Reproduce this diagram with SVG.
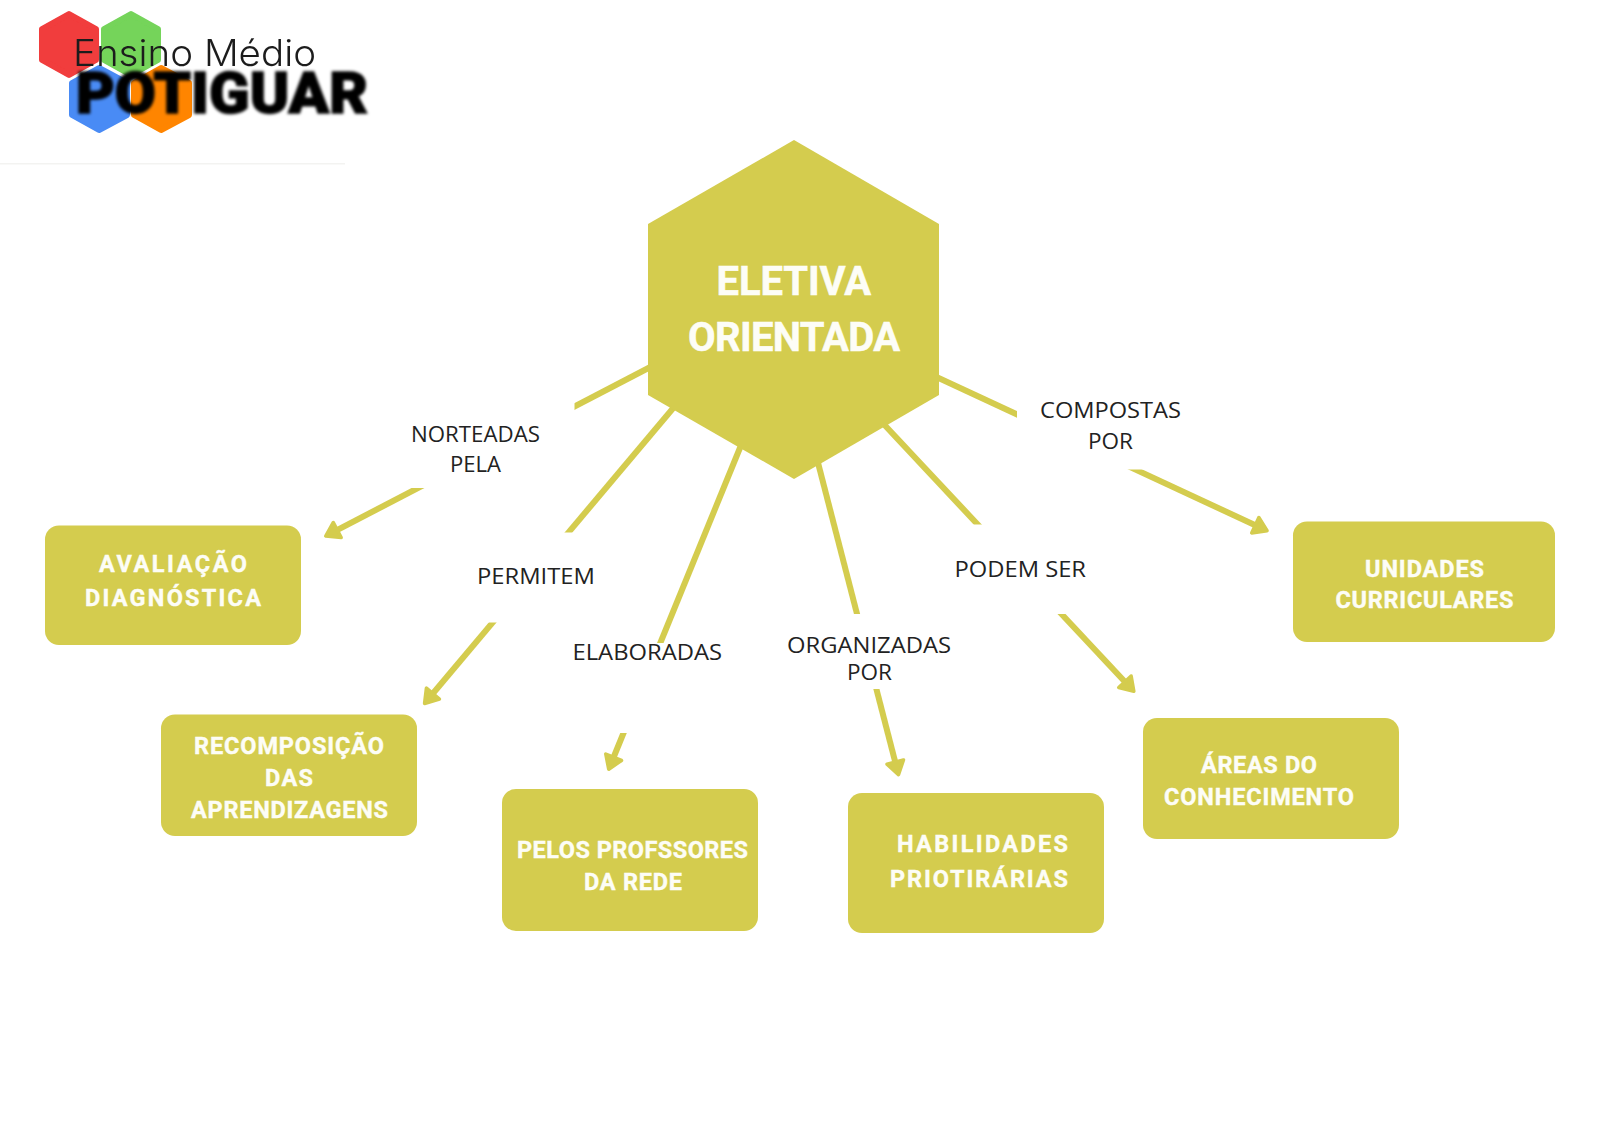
<svg xmlns="http://www.w3.org/2000/svg" width="1600" height="1131" viewBox="0 0 1600 1131">
<style>
.box{fill:#d4cc4e}
.bt{font-family:Roboto,"Liberation Sans",sans-serif;font-weight:700;font-size:23.5px;fill:#fdfdf6;stroke:#fdfdf6;stroke-width:.4px}
.tt{font-family:Roboto,"Liberation Sans",sans-serif;font-weight:700;font-size:40px;fill:#fdfdf6;stroke:#fdfdf6;stroke-width:.5px}
.lb{font-family:"Open Sans","Liberation Sans",sans-serif;font-size:22px;fill:#222}
.cn{stroke:#d4cc4e;stroke-width:6;fill:none;marker-end:url(#arr)}
.gap{fill:#fff}
</style>
<defs>
<marker id="arr" viewBox="-12 -14 26 28" markerWidth="26" markerHeight="28" refX="0" refY="0" orient="auto" markerUnits="userSpaceOnUse">
<path d="M10,0 L-3,-8.500 L-3,8.500 Z" fill="#d4cc4e" stroke="#d4cc4e" stroke-width="3.500" stroke-linejoin="round"/>
</marker>
<filter id="soft" x="-5%" y="-5%" width="110%" height="110%"><feGaussianBlur stdDeviation="0.7"/></filter>
<filter id="softer" x="-5%" y="-15%" width="110%" height="130%"><feGaussianBlur stdDeviation="1.400"/></filter>
</defs>
<rect width="1600" height="1131" fill="#fff"/>
<g id="logo">
<rect x="0" y="163" width="345" height="1.5" fill="#f3f3f1"/>
<g filter="url(#soft)" stroke-linejoin="round" stroke-width="6">
<path d="M69,14 L96,29 L96,60 L69,75 L42,60 L42,29 Z" fill="#f13c3c" stroke="#f13c3c"/>
<path d="M131,14 L158,29 L158,60 L131,75 L104,60 L104,29 Z" fill="#74d45a" stroke="#74d45a"/>
<path d="M99,68 L127,83 L127,115 L99,130 L72,115 L72,83 Z" fill="#4a8bf5" stroke="#4a8bf5"/>
<path d="M161,68 L189,83 L189,115 L161,130 L134,115 L134,83 Z" fill="#ff8500" stroke="#ff8500"/>
</g>
<text x="73" y="66" font-family="Inter,'Liberation Sans',sans-serif" font-weight="300" font-size="37" fill="#1c1c1c" textLength="243" lengthAdjust="spacingAndGlyphs" filter="url(#soft)">Ensino Médio</text>
<text x="76" y="113" font-family="Roboto,'Liberation Sans',sans-serif" font-weight="900" font-size="57" fill="#050505" stroke="#050505" stroke-width="1.500" textLength="292" lengthAdjust="spacingAndGlyphs" filter="url(#softer)">POTIGUAR</text>
</g>
<g id="connectors">
<line class="cn" x1="660" y1="362" x2="334.6" y2="531.4"/>
<line class="cn" x1="680" y1="400" x2="431" y2="695.8"/>
<line class="cn" x1="744" y1="438" x2="612.5" y2="760"/>
<line class="cn" x1="816" y1="455" x2="896" y2="765"/>
<line class="cn" x1="878" y1="418" x2="1127" y2="684"/>
<line class="cn" x1="930" y1="374" x2="1258" y2="526.5"/>
<rect class="gap" x="405" y="395" width="169.500" height="93"/>
<rect class="gap" x="470" y="532.500" width="145" height="90"/>
<rect class="gap" x="568" y="643" width="160" height="90"/>
<rect class="gap" x="785" y="614" width="170" height="75"/>
<rect class="gap" x="950" y="524.500" width="140" height="89.500"/>
<rect class="gap" x="1017" y="385" width="183" height="84.500"/>
<text class="lb" x="411" y="441.500" textLength="129" lengthAdjust="spacingAndGlyphs">NORTEADAS</text>
<text class="lb" x="450" y="472" textLength="51" lengthAdjust="spacingAndGlyphs">PELA</text>
<text class="lb" x="477" y="584" textLength="118" lengthAdjust="spacingAndGlyphs">PERMITEM</text>
<text class="lb" x="572.500" y="660" textLength="149.500" lengthAdjust="spacingAndGlyphs">ELABORADAS</text>
<text class="lb" x="787" y="652.500" textLength="164" lengthAdjust="spacingAndGlyphs">ORGANIZADAS</text>
<text class="lb" x="847" y="680" textLength="45" lengthAdjust="spacingAndGlyphs">POR</text>
<text class="lb" x="954.500" y="577" textLength="131.500" lengthAdjust="spacingAndGlyphs">PODEM SER</text>
<text class="lb" x="1040" y="417.500" textLength="141" lengthAdjust="spacingAndGlyphs">COMPOSTAS</text>
<text class="lb" x="1088" y="448.500" textLength="45" lengthAdjust="spacingAndGlyphs">POR</text>
</g>
<g id="eletiva">
<polygon class="box" points="794,140 939,224 939,395 794,479 648,395 648,224"/>
<text class="tt" x="716.500" y="294.500" textLength="154.500" lengthAdjust="spacing">ELETIVA</text>
<text class="tt" x="688" y="350.500" textLength="212" lengthAdjust="spacing">ORIENTADA</text>
</g>
<g id="avaliacao">
<rect class="box" x="45" y="525.500" width="256" height="119.500" rx="14"/>
<text class="bt" x="99" y="571.500" textLength="148" lengthAdjust="spacing">AVALIAÇÃO</text>
<text class="bt" x="85" y="606" textLength="176" lengthAdjust="spacing">DIAGNÓSTICA</text>
</g>
<g id="recomposicao">
<rect class="box" x="161" y="714.500" width="256" height="121.500" rx="14"/>
<text class="bt" x="194" y="753.500" textLength="190" lengthAdjust="spacing">RECOMPOSIÇÃO</text>
<text class="bt" x="265" y="786" textLength="48" lengthAdjust="spacing">DAS</text>
<text class="bt" x="191" y="818" textLength="197" lengthAdjust="spacing">APRENDIZAGENS</text>
</g>
<g id="professores">
<rect class="box" x="502" y="789" width="256" height="142" rx="14"/>
<text class="bt" x="517" y="857.500" textLength="231" lengthAdjust="spacing">PELOS PROFSSORES</text>
<text class="bt" x="584" y="889.500" textLength="98" lengthAdjust="spacing">DA REDE</text>
</g>
<g id="habilidades">
<rect class="box" x="848" y="793" width="256" height="140" rx="14"/>
<text class="bt" x="897" y="852" textLength="171" lengthAdjust="spacing">HABILIDADES</text>
<text class="bt" x="890" y="886.500" textLength="178" lengthAdjust="spacing">PRIOTIRÁRIAS</text>
</g>
<g id="areas">
<rect class="box" x="1143" y="718" width="256" height="121" rx="14"/>
<text class="bt" x="1201" y="773" textLength="116" lengthAdjust="spacing">ÁREAS DO</text>
<text class="bt" x="1164" y="805" textLength="190" lengthAdjust="spacing">CONHECIMENTO</text>
</g>
<g id="unidades">
<rect class="box" x="1293" y="521.500" width="262" height="120.500" rx="14"/>
<text class="bt" x="1365" y="577" textLength="119" lengthAdjust="spacing">UNIDADES</text>
<text class="bt" x="1335.500" y="608" textLength="178" lengthAdjust="spacing">CURRICULARES</text>
</g>
</svg>
